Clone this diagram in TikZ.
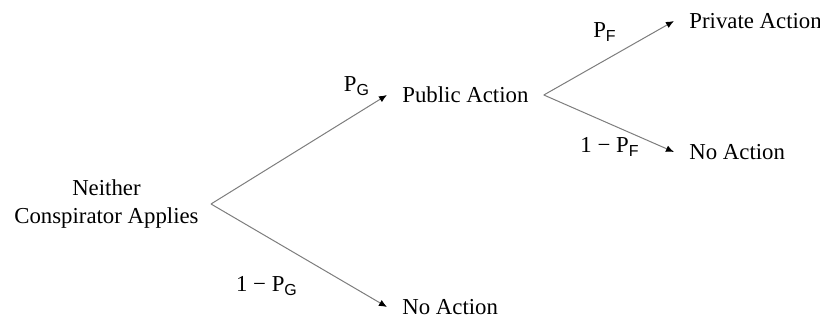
\documentclass[tikz,border=0pt]{standalone}
\usepackage{fontspec}
\setmainfont{Liberation Serif}
\setsansfont{Liberation Sans}
\usetikzlibrary{arrows.meta}
\tikzset{
  edge/.style={draw={rgb,255:red,125;green,125;blue,125}, line width=0.5pt, -{Latex[length=4pt,width=3.4pt,black]}},
  state/.style={inner xsep=7.5pt, inner ysep=0pt, font=\fontsize{11.4}{14}\selectfont},
  prob/.style={inner sep=0pt, font=\fontsize{11.4}{14}\selectfont}
}
\newcommand{\Psub}[1]{P\textsubscript{\sffamily #1}}
\begin{document}
\begin{tikzpicture}[x=0.5pt,y=-0.5pt]
\useasboundingbox (0,0) rectangle (820,320);
\node[state, anchor=east, inner xsep=6pt, align=center] (root) at (211,204) {Neither\\Conspirator Applies};
\node[state, anchor=west] (pub) at (387,95) {Public Action};
\node[state, anchor=west] (na1) at (387,307) {No Action};
\node[state, anchor=west] (priv) at (674,21) {Private Action};
\node[state, anchor=west] (na2) at (674,152) {No Action};
\draw[edge] (root.east) -- (pub.west);
\draw[edge] (root.east) -- (na1.west);
\draw[edge] (pub.east) -- (priv.west);
\draw[edge] (pub.east) -- (na2.west);
\node[prob] (pg) at (357,86) {\Psub{G}};
\node[prob] (qg) at (267,286) {1 − \Psub{G}};
\node[prob] (pf) at (605,32) {\Psub{F}};
\node[prob] (qf) at (610,147) {1 − \Psub{F}};
\end{tikzpicture}
\end{document}
